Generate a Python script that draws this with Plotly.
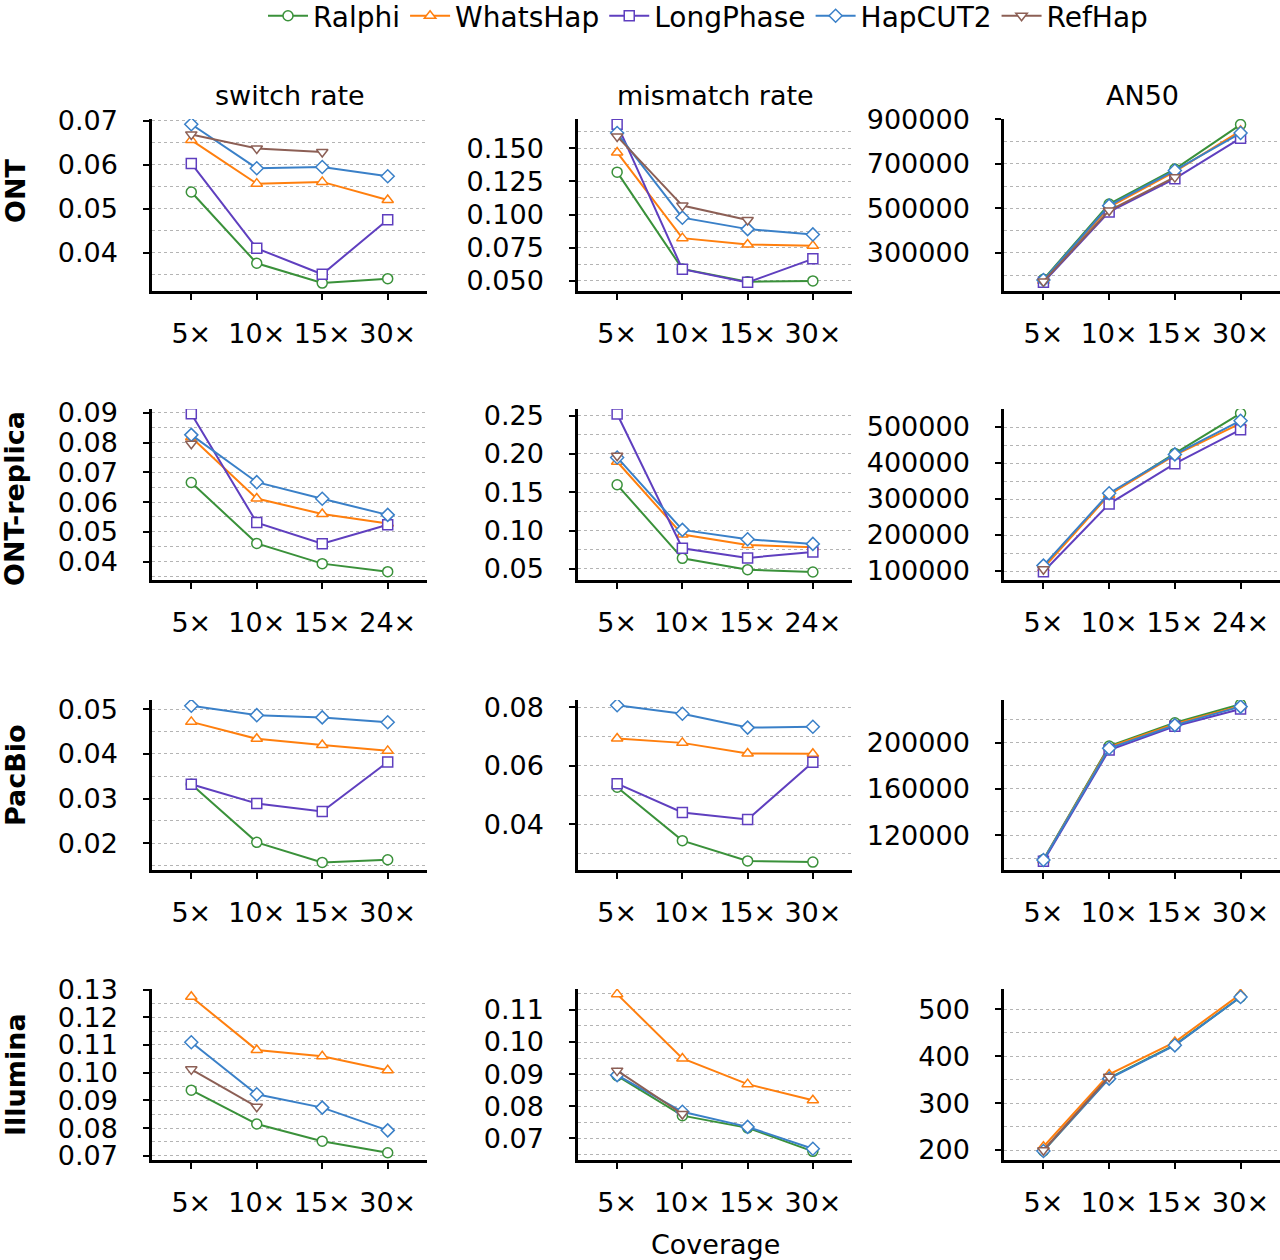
import plotly.graph_objects as go

methods = ["Ralphi", "WhatsHap", "LongPhase", "HapCUT2", "RefHap"]
colors = ["#3a913a", "#ff7f0e", "#5f3fbf", "#3a80c8", "#8c5f55"]
symbols = ["circle", "triangle-up", "square", "diamond", "triangle-down"]

cov_30 = ["5×", "10×", "15×", "30×"]
cov_24 = ["5×", "10×", "15×", "24×"]

# ---- ONT ----
ont_switch = [
    [0.0538, 0.0376, 0.0331, 0.0341],
    [0.0656, 0.0557, 0.0561, 0.0520],
    [0.0603, 0.0410, 0.0351, 0.0475],
    [0.0692, 0.0592, 0.0595, 0.0574],
    [0.0669, 0.0637, 0.0629, None],
]
ont_mismatch = [
    [0.1319, 0.0590, 0.0494, 0.0500],
    [0.1467, 0.0822, 0.0774, 0.0764],
    [0.1679, 0.0588, 0.0489, 0.0666],
    [0.1613, 0.0976, 0.0890, 0.0850],
    [0.1588, 0.1067, 0.0958, None],
]
ont_an50 = [
    [181000, 519000, 676000, 876000],
    [175000, 505000, 665000, 848000],
    [168000, 484000, 633000, 815000],
    [178000, 512000, 670000, 838000],
    [172000, 490000, 640000, None],
]
# ---- ONT-replica ----
rep_switch = [
    [0.0666, 0.0461, 0.0393, 0.0366],
    [0.0818, 0.0612, 0.0560, 0.0528],
    [0.0897, 0.0531, 0.0460, 0.0524],
    [0.0826, 0.0667, 0.0611, 0.0557],
    [0.0796, None, None, None],
]
rep_mismatch = [
    [0.1598, 0.0639, 0.0491, 0.0461],
    [0.1899, 0.0949, 0.0814, 0.0783],
    [0.2522, 0.0770, 0.0644, 0.0722],
    [0.1955, 0.1010, 0.0888, 0.0827],
    [0.1977, None, None, None],
]
rep_an50 = [
    [113000, 312500, 426700, 538000],
    [108000, 312000, 422000, 510000],
    [98100, 286500, 398100, 492600],
    [115000, 316000, 424000, 517600],
    [105000, None, None, None],
]
# ---- PacBio ----
pb_switch = [
    [0.0332, 0.0202, 0.0157, 0.0163],
    [0.0472, 0.0434, 0.0420, 0.0407],
    [0.0332, 0.0289, 0.0271, 0.0382],
    [0.0508, 0.0487, 0.0482, 0.0471],
    [None, None, None, None],
]
pb_mismatch = [
    [0.0527, 0.0345, 0.0276, 0.0272],
    [0.0693, 0.0678, 0.0642, 0.0641],
    [0.0539, 0.0441, 0.0417, 0.0612],
    [0.0806, 0.0777, 0.0730, 0.0733],
    [None, None, None, None],
]
pb_an50 = [
    [99000, 197000, 217000, 233000],
    [98500, 196000, 216000, 231500],
    [97500, 193500, 214000, 229000],
    [98500, 195000, 215000, 231000],
    [None, None, None, None],
]
# ---- Illumina ----
il_switch = [
    [0.0937, 0.0815, 0.0753, 0.0711],
    [0.1274, 0.1082, 0.1059, 0.1009],
    [None, None, None, None],
    [0.1110, 0.0922, 0.0874, 0.0792],
    [0.1012, 0.0877, None, None],
]
il_mismatch = [
    [0.0895, 0.0771, 0.0733, 0.0660],
    [0.1149, 0.0949, 0.0869, 0.0819],
    [None, None, None, None],
    [0.0897, 0.0783, 0.0736, 0.0668],
    [0.0911, 0.0776, None, None],
]
il_an50 = [
    [198, 353, 424, 526],
    [207, 361, 430, 532],
    [None, None, None, None],
    [198, 352, 423, 526],
    [199.5, 356, None, None],
]

row_names = ["ONT", "ONT-replica", "PacBio", "Illumina"]
col_names = ["switch rate", "mismatch rate", "AN50"]
row_cov = [cov_30, cov_24, cov_30, cov_30]
panels = [
    [ont_switch, ont_mismatch, ont_an50],
    [rep_switch, rep_mismatch, rep_an50],
    [pb_switch, pb_mismatch, pb_an50],
    [il_switch, il_mismatch, il_an50],
]
# y axis settings: (range, tick0, dtick, minor dtick, format)
yset = [
    [([0.0313, 0.0704], 0, 0.01, 0.005, ".2f"), ([0.0424, 0.1719], 0, 0.025, 0.0125, ".3f"),
     ([128800, 901000], 100000, 200000, 100000, "d")],
    [([0.0338, 0.0913], 0, 0.01, 0.005, ".2f"), ([0.0356, 0.2587], 0, 0.05, 0.025, ".2f"),
     ([75000, 550100], 0, 100000, 50000, "d")],
    [([0.0140, 0.0521], 0, 0.01, 0.005, ".2f"), ([0.0245, 0.0824], 0, 0.02, 0.01, ".2f"),
     ([89900, 236700], 0, 40000, 20000, "d")],
    [([0.0685, 0.1302], 0, 0.01, 0.005, ".2f"), ([0.0633, 0.1165], 0, 0.01, 0.005, ".2f"),
     ([178.7, 543], 0, 100, 50, "d")],
]

W, H = 1280, 1260
xdom_px = [(152, 427), (578, 852), (1004, 1280)]
ydom_px = [(119, 291), (409, 580), (700, 870), (989, 1160)]

FONT = "DejaVu Sans"
FS = 27
fig = go.Figure()
layout = {}
grid_color = "#b4b4b4"
for r in range(4):
    for c in range(3):
        idx = r * 3 + c + 1
        xa = "x" if idx == 1 else f"x{idx}"
        ya = "y" if idx == 1 else f"y{idx}"
        for m in range(5):
            vals = panels[r][c][m]
            fig.add_trace(go.Scatter(
                x=row_cov[r], y=vals, xaxis=xa, yaxis=ya,
                mode="lines+markers", name=methods[m],
                legendgroup=methods[m], showlegend=(idx == 1),
                connectgaps=False, hoverinfo="skip",
                line=dict(color=colors[m], width=2),
                marker=dict(symbol=symbols[m], size=10, color="white",
                            line=dict(color=colors[m], width=1.5)),
            ))
        x0, x1 = xdom_px[c]
        y0, y1 = ydom_px[r]
        rng, t0, dt, mdt, fmt = yset[r][c]
        layout[f"xaxis{'' if idx == 1 else idx}"] = dict(
            domain=[x0 / W, x1 / W], anchor=ya, type="category",
            categoryorder="array", categoryarray=row_cov[r],
            range=[-0.6, 3.6], showline=True, linecolor="black", linewidth=2.5,
            ticks="outside", ticklen=6, tickwidth=1.5, tickcolor="black",
            tickfont=dict(size=FS, color="black", family=FONT),
            ticklabelstandoff=11, showgrid=False, zeroline=False, automargin=False,
        )
        layout[f"yaxis{'' if idx == 1 else idx}"] = dict(
            domain=[1 - y1 / H, 1 - y0 / H], anchor=xa, range=rng,
            tick0=t0, dtick=dt, tickformat=fmt,
            showline=True, linecolor="black", linewidth=2.5,
            ticks="outside", ticklen=6, tickwidth=1.5, tickcolor="black",
            tickfont=dict(size=FS, color="black", family=FONT),
            ticklabelstandoff=20, automargin=False,
            showgrid=True, gridcolor=grid_color, griddash="dot", gridwidth=1,
            minor=dict(tick0=0, dtick=mdt, showgrid=True, gridcolor=grid_color,
                       griddash="dot", gridwidth=1),
            zeroline=False,
        )

annotations = []
for c, name in enumerate(col_names):
    x0, x1 = xdom_px[c]
    annotations.append(dict(text=name, x=(x0 + x1) / 2 / W, y=1 - 96 / H,
                            xref="paper", yref="paper", showarrow=False,
                            xanchor="center", yanchor="middle",
                            font=dict(size=FS, color="black", family=FONT)))
row_label_y = [191, 499, 775, 1075]
for r, name in enumerate(row_names):
    annotations.append(dict(text=f"<b>{name}</b>", x=15 / W, y=1 - row_label_y[r] / H,
                            xref="paper", yref="paper", showarrow=False,
                            textangle=-90, xanchor="center", yanchor="middle",
                            font=dict(size=FS, color="black", family=FONT)))
annotations.append(dict(text="Coverage", x=715 / W, y=1 - 1244 / H,
                        xref="paper", yref="paper", showarrow=False,
                        xanchor="center", yanchor="middle",
                        font=dict(size=FS, color="black", family=FONT)))

fig.update_layout(
    template="none",
    width=W, height=H, margin=dict(l=0, r=0, t=0, b=0, autoexpand=False),
    paper_bgcolor="white", plot_bgcolor="white",
    font=dict(family=FONT, color="black"),
    annotations=annotations,
    legend=dict(orientation="h", x=708 / W, xanchor="center", y=1 + 9 / H,
                yanchor="top", font=dict(size=28, family=FONT, color="black"),
                itemwidth=40, tracegroupgap=0, bgcolor="rgba(0,0,0,0)"),
    **layout,
)
fig.write_html("out.html")
